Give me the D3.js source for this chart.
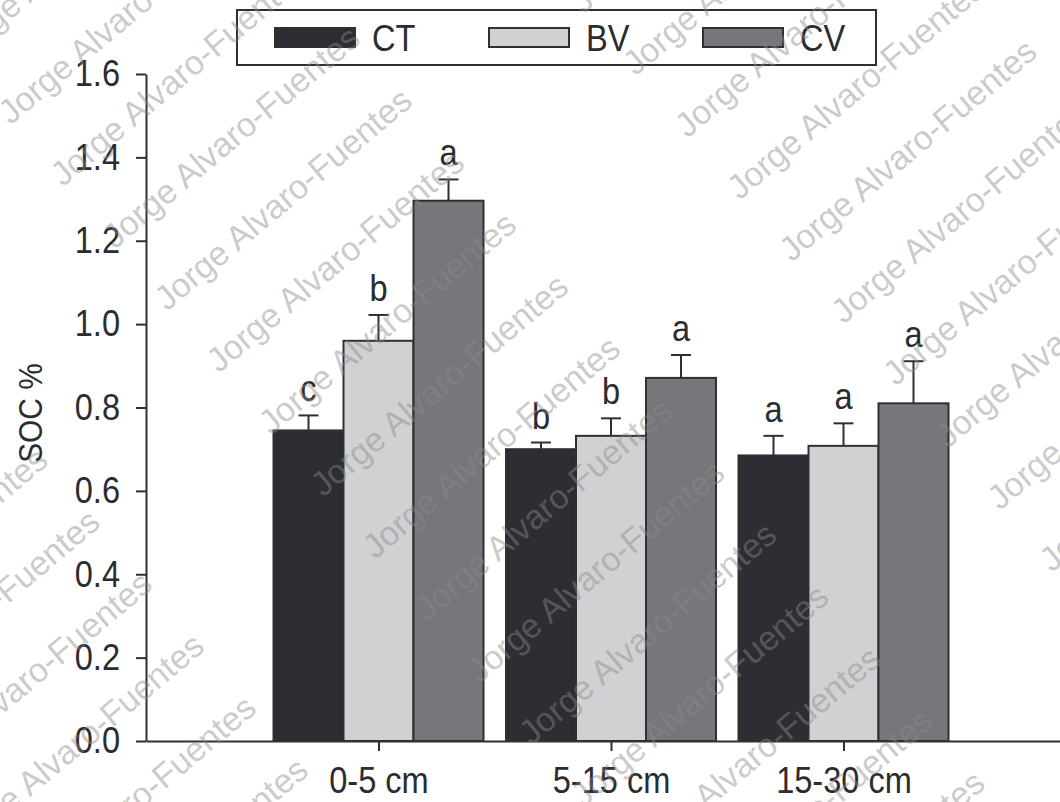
<!DOCTYPE html>
<html>
<head>
<meta charset="utf-8">
<script src="https://cdn.jsdelivr.net/npm/d3@7"></script>
<style>
  body { margin: 0; background: #fff; }
  svg text { font-family: "Liberation Sans", Arial, sans-serif; fill: #2b2c30; }
</style>
</head>
<body>
<svg id="chart"></svg>
<script>
// soil depth groups and treatments
const depths = ['0-5 cm', '5-15 cm', '15-30 cm']
const treatments = ['CT', 'BV', 'CV']

// mean SOC % per depth, one array per treatment
const ctValues = [0.745, 0.700, 0.685]
const bvValues = [0.960, 0.732, 0.708]
const cvValues = [1.296, 0.871, 0.810]

// standard error (upper bar only)
const ctErr = [0.036, 0.016, 0.047]
const bvErr = [0.062, 0.042, 0.054]
const cvErr = [0.051, 0.055, 0.101]

// significance letters
const ctLetters = ['c', 'b', 'a']
const bvLetters = ['b', 'b', 'a']
const cvLetters = ['a', 'a', 'a']

const yTicks = [0, 0.2, 0.4, 0.6, 0.8, 1.0, 1.2, 1.4, 1.6]

const colors = { CT: '#2d2e33', BV: '#d0d1d3', CV: '#76777b' }
const ink = '#2f3034'

const width = 1060
const height = 802
const narrow = 0.88   // fake a condensed face by squeezing x

const svg = d3.select('#chart')
  .attr('width', width)
  .attr('height', height)

const series = {
  CT: { values: ctValues, err: ctErr, letters: ctLetters },
  BV: { values: bvValues, err: bvErr, letters: bvLetters },
  CV: { values: cvValues, err: cvErr, letters: cvLetters }
}

const rows = []
depths.forEach((d, i) => {
  treatments.forEach(t => {
    rows.push({
      depth: d,
      treatment: t,
      value: series[t].values[i],
      err: series[t].err[i],
      letter: series[t].letters[i]
    })
  })
})

const y = d3.scaleLinear().domain([0, 1.6]).range([741, 74])
const x0 = d3.scalePoint().domain(depths).range([146, 1076]).padding(1)
const x1 = d3.scaleBand().domain(treatments).range([-105, 105])

// squeeze texts horizontally, keeping their anchor x in place
function squeeze (sel) {
  sel.each(function () {
    const t = d3.select(this)
    const x = +(t.attr('x') || 0)
    t.attr('x', x / narrow).attr('transform', 'scale(' + narrow + ',1)')
  })
}

// bars
svg.append('g').selectAll('rect')
  .data(rows)
  .enter().append('rect')
    .attr('x', d => x0(d.depth) + x1(d.treatment))
    .attr('y', d => y(d.value))
    .attr('width', x1.bandwidth())
    .attr('height', d => y(0) - y(d.value))
    .style('fill', d => colors[d.treatment])
    .style('stroke', ink)
    .style('stroke-width', 2)

// error bars
const eb = svg.append('g').selectAll('g')
  .data(rows)
  .enter().append('g')
    .attr('transform', d => 'translate(' + (x0(d.depth) + x1(d.treatment) + x1.bandwidth() / 2) + ',0)')

eb.append('line')
  .attr('x1', 0).attr('x2', 0)
  .attr('y1', d => y(d.value))
  .attr('y2', d => y(d.value + d.err))
  .style('stroke', ink).style('stroke-width', 2)

eb.append('line')
  .attr('x1', -10).attr('x2', 10)
  .attr('y1', d => y(d.value + d.err))
  .attr('y2', d => y(d.value + d.err))
  .style('stroke', ink).style('stroke-width', 2)

eb.append('text')
  .attr('y', d => y(d.value + d.err) - 14)
  .attr('text-anchor', 'middle')
  .style('font-size', '37px')
  .text(d => d.letter)
  .call(squeeze)

// axes
const yAxis = svg.append('g')
  .attr('transform', 'translate(146,0)')
  .call(d3.axisLeft(y).tickValues(yTicks).tickFormat(d3.format('.1f')).tickSize(10).tickSizeOuter(0).tickPadding(16))

const xAxis = svg.append('g')
  .attr('transform', 'translate(0,741)')
  .call(d3.axisBottom(x0).tickSize(10).tickSizeOuter(0).tickPadding(16))

;[yAxis, xAxis].forEach(a => {
  a.attr('font-family', null).attr('font-size', null)
  a.selectAll('path, line').style('stroke', ink).style('stroke-width', 2)
  a.selectAll('text').style('font-size', '37px').style('fill', '#2b2c30').call(squeeze)
})

svg.append('text')
  .attr('transform', 'translate(42,413) rotate(-90) scale(' + narrow + ',1)')
  .attr('text-anchor', 'middle')
  .style('font-size', '34px')
  .text('SOC %')

// legend
const legend = svg.append('g')
legend.append('rect')
  .attr('x', 237).attr('y', 10)
  .attr('width', 639).attr('height', 55)
  .style('fill', '#fff')
  .style('stroke', ink)
  .style('stroke-width', 2)

const item = legend.selectAll('g.item')
  .data(treatments)
  .enter().append('g')
    .attr('class', 'item')
    .attr('transform', (d, i) => 'translate(' + (275 + i * 214) + ',0)')

item.append('rect')
  .attr('x', 0).attr('y', 28)
  .attr('width', 80).attr('height', 19)
  .style('fill', d => colors[d])
  .style('stroke', ink)
  .style('stroke-width', 2)

item.append('text')
  .attr('x', 97).attr('y', 51)
  .style('font-size', '37px')
  .text(d => d)
  .call(squeeze)

// watermark
const wm = svg.append('g')
  .attr('transform', 'rotate(-40)')
  .style('pointer-events', 'none')

const rad = -40 * Math.PI / 180
const marks = []
for (let i = -3; i <= 4; i++) {
  for (let j = -14; j <= 16; j++) {
    const u = 89 + i * 510
    const v = 578 + i * 40 + j * 81
    // back to screen space to drop the ones that are far outside
    const sx = u * Math.cos(rad) - v * Math.sin(rad)
    const sy = u * Math.sin(rad) + v * Math.cos(rad)
    if (sx > -120 && sx < width + 120 && sy > -100 && sy < height + 100) marks.push({ u, v })
  }
}

wm.selectAll('text')
  .data(marks)
  .enter().append('text')
    .attr('x', d => d.u)
    .attr('y', d => d.v + 11)
    .attr('text-anchor', 'middle')
    .style('font-size', '34px')
    .style('fill', '#8a8a8a')
    .style('fill-opacity', 0.45)
    .text('Jorge Alvaro-Fuentes')
</script>
</body>
</html>
